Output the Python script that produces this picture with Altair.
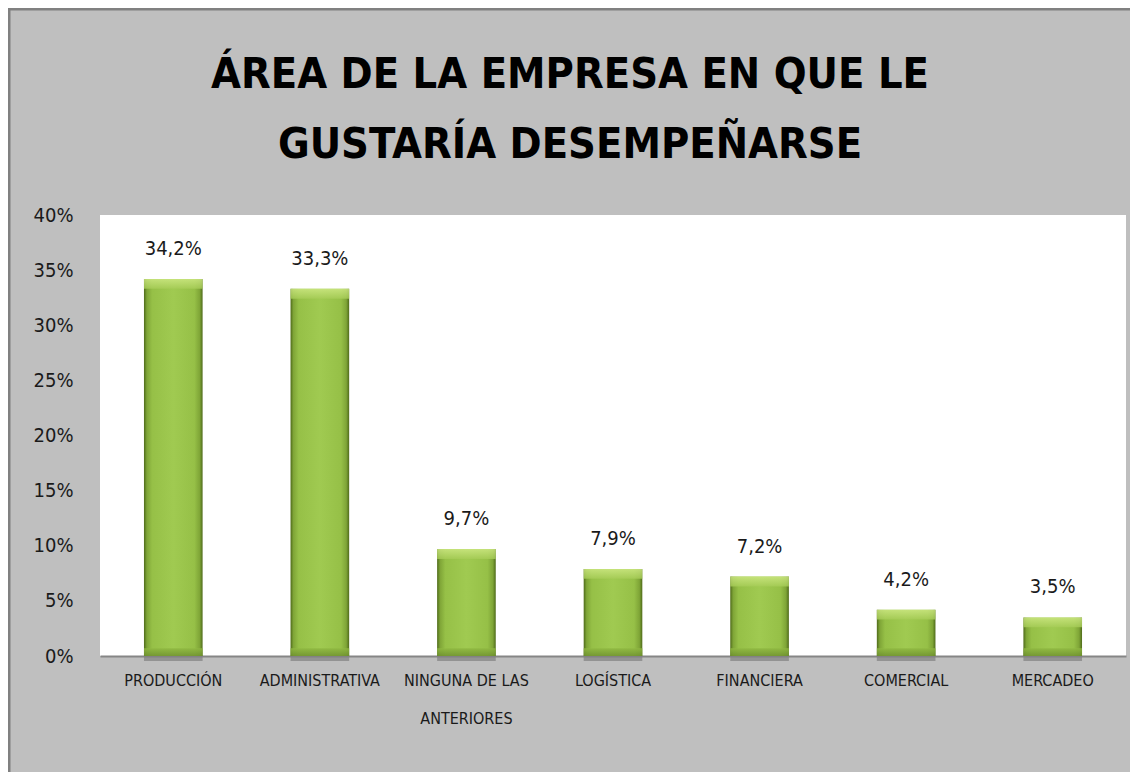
import altair as alt
import pandas as pd

categories = ["PRODUCCIÓN", "ADMINISTRATIVA", "NINGUNA DE LAS ANTERIORES",
              "LOGÍSTICA", "FINANCIERA", "COMERCIAL", "MERCADEO"]
values = [34.2, 33.3, 9.7, 7.9, 7.2, 4.2, 3.5]
y_ticks = [0, 5, 10, 15, 20, 25, 30, 35, 40]
title_lines = ["ÁREA DE LA EMPRESA EN QUE LE", "GUSTARÍA DESEMPEÑARSE"]

df = pd.DataFrame({"area": categories, "pct": values})
one_df = pd.DataFrame({"k": [0]})

FONT = "Liberation Sans Narrow, DejaVu Sans Condensed, sans-serif"
W, H = 1026, 441

x_enc = alt.X(
    "area:N", sort=categories,
    scale=alt.Scale(paddingInner=0.6, paddingOuter=0.3),
    axis=alt.Axis(
        title=None, labelAngle=0, labelFont=FONT, labelFontSize=16,
        labelColor="#1a1a1a", labelPadding=24, ticks=False,
        domainColor="#868686", domainWidth=2, labelOverlap=False,
        labelBound=False, labelLineHeight=38, labelBaseline="middle",
        labelExpr="datum.value == 'NINGUNA DE LAS ANTERIORES' ? ['NINGUNA DE LAS', 'ANTERIORES'] : datum.label",
    ),
)
y_enc = alt.Y(
    "pct:Q", scale=alt.Scale(domain=[0, 40]),
    axis=alt.Axis(
        values=y_ticks, labelExpr="datum.value + '%'", title=None,
        domain=False, ticks=False, grid=False, labelPadding=27,
        labelFont=FONT, labelFontSize=20, labelColor="#1a1a1a",
    ),
)

base = alt.Chart(df)

bar_grad = {
    "gradient": "linear", "x1": 0, "x2": 1, "y1": 0, "y2": 0,
    "stops": [
        {"offset": 0.0, "color": "#4f6b1a"},
        {"offset": 0.05, "color": "#7fa537"},
        {"offset": 0.14, "color": "#96c047"},
        {"offset": 0.5, "color": "#a0ca51"},
        {"offset": 0.86, "color": "#96c047"},
        {"offset": 0.95, "color": "#7fa537"},
        {"offset": 1.0, "color": "#4f6b1a"},
    ],
}
cap_grad = {
    "gradient": "linear", "x1": 0, "x2": 0, "y1": 0, "y2": 1,
    "stops": [
        {"offset": 0.0, "color": "#cfe985"},
        {"offset": 1.0, "color": "#a6cc57"},
    ],
}
bottom_grad = {
    "gradient": "linear", "x1": 0, "x2": 0, "y1": 0, "y2": 1,
    "stops": [
        {"offset": 0.0, "color": "#8fb841"},
        {"offset": 1.0, "color": "#6f9130"},
    ],
}

shadow = base.transform_calculate(s="-0.45", z="0").mark_bar(
    color="#808080", opacity=0.7
).encode(x=x_enc, y=alt.Y("z:Q"), y2="s:Q")

bars = base.mark_bar(color=bar_grad).encode(x=x_enc, y=y_enc)

top_cap = base.transform_calculate(t2="datum.pct - 0.9").mark_bar(
    color=cap_grad, opacity=0.8
).encode(x=x_enc, y="pct:Q", y2="t2:Q")

bottom_cap = base.transform_calculate(b0="0", b1="0.7").mark_bar(
    color=bottom_grad, opacity=0.85
).encode(x=x_enc, y="b1:Q", y2="b0:Q")

labels = base.transform_calculate(
    lbl="replace(format(datum.pct, '.1f'), '.', ',') + '%'"
).mark_text(
    dy=-24, baseline="alphabetic", font=FONT, fontSize=20, color="#1a1a1a"
).encode(x=x_enc, y="pct:Q", text="lbl:N")

title1 = alt.Chart(one_df).mark_text(
    text=title_lines[0], font=FONT, fontSize=43, fontWeight="bold",
    color="#000000", align="center", baseline="middle",
).encode(x=alt.value(470), y=alt.value(-140))

title2 = alt.Chart(one_df).mark_text(
    text=title_lines[1], font=FONT, fontSize=43, fontWeight="bold",
    color="#000000", align="center", baseline="middle",
).encode(x=alt.value(470), y=alt.value(-70))

frame = alt.Chart(one_df).mark_rect(
    fillOpacity=0, stroke="#808080", strokeWidth=3
).encode(
    x=alt.value(-91), x2=alt.value(W + 100),
    y=alt.value(-206), y2=alt.value(H + 200),
)

chart = alt.layer(
    shadow, bars, top_cap, bottom_cap, labels, title1, title2, frame
).properties(
    width=W, height=H,
    background="#bfbfbf",
    autosize=alt.AutoSizeParams(type="none"),
    padding={"left": 92, "top": 207, "right": 4, "bottom": 116},
).configure_view(fill="white", strokeWidth=0)

chart.save("out.html", embed_options={"renderer": "svg", "actions": False})
